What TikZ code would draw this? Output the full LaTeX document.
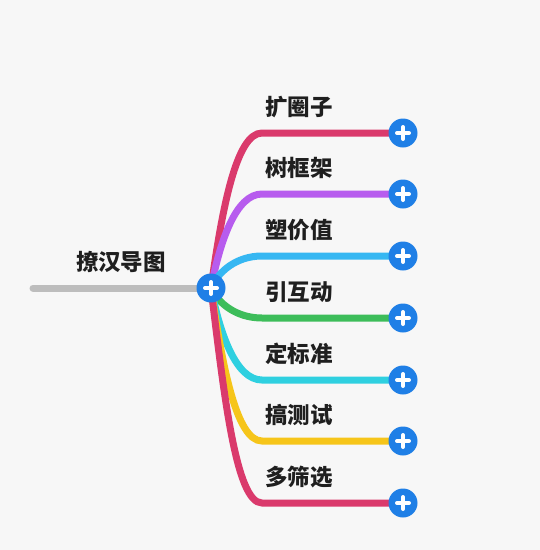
\documentclass[tikz,border=0pt]{standalone}
\usepackage{fontspec}
\newfontfamily\cjk{Noto Sans CJK SC}
\definecolor{bg}{HTML}{F7F7F7}
\definecolor{plusblue}{HTML}{1F7FE6}
\definecolor{rootgray}{HTML}{BDBDBD}
\definecolor{cA}{HTML}{DA3A6C}
\definecolor{cB}{HTML}{B75CEE}
\definecolor{cC}{HTML}{36B7F2}
\definecolor{cD}{HTML}{3DBD5A}
\definecolor{cE}{HTML}{2FD0E0}
\definecolor{cF}{HTML}{F6C51A}
\tikzset{
  plusbtn/.style={circle, fill=plusblue, minimum size=#1, inner sep=0pt,
    path picture={
      \draw[white, line width=4pt, line cap=round]
        ([xshift=-6pt]path picture bounding box.center) -- ([xshift=6pt]path picture bounding box.center)
        ([yshift=-6pt]path picture bounding box.center) -- ([yshift=6pt]path picture bounding box.center);
    }},
  branch/.style={line width=7pt, line cap=round, draw=#1},
  txt/.style={font=\cjk\bfseries\fontsize{22.5}{26}\selectfont, inner sep=0pt, text=black!88},
  lbl/.style={txt, anchor=west},
}
\begin{document}
\begin{tikzpicture}[x=1pt, y=-1pt]
\fill[bg] (0,0) rectangle (540,550);
\useasboundingbox (0,0) rectangle (540,550);
\coordinate (hubc) at (211,288);
\coordinate (rootstart) at (33,288);
\foreach \i/\y in {1/133,2/194,3/256,4/318,5/380,6/441,7/503}{
  \coordinate (ec\i) at (403,\y);
  \coordinate (k\i) at (262,\y);
}
% root line
\draw[line width=7pt, line cap=round, draw=rootgray] (rootstart) -- (hubc);
\node[txt] (root) at (121,262) {撩汉导图};
% branches
\draw[branch=cA] (hubc) .. controls (222,210) and (236,133) .. (k1) -- (ec1);
\draw[branch=cB] (hubc) .. controls (220,241) and (236,194) .. (k2) -- (ec2);
\draw[branch=cC] (hubc) .. controls (218,272) and (236,256) .. (k3) -- (ec3);
\draw[branch=cD] (hubc) .. controls (218,303) and (236,318) .. (k4) -- (ec4);
\draw[branch=cE] (hubc) .. controls (220,334) and (236,380) .. (k5) -- (ec5);
\draw[branch=cF] (hubc) .. controls (222,364) and (236,441) .. (k6) -- (ec6);
\draw[branch=cA] (hubc) .. controls (224,395) and (236,503) .. (k7) -- (ec7);
% plus buttons
\node[plusbtn=29pt] (hub) at (hubc) {};
\foreach \i in {1,...,7}{
  \node[plusbtn=29pt] (e\i) at (ec\i) {};
}
% labels
\node[lbl] (l1) at (265,107) {扩圈子};
\node[lbl] (l2) at (265,168) {树框架};
\node[lbl] (l3) at (265,230) {塑价值};
\node[lbl] (l4) at (265,292) {引互动};
\node[lbl] (l5) at (265,354) {定标准};
\node[lbl] (l6) at (265,415) {搞测试};
\node[lbl] (l7) at (265,477) {多筛选};
\end{tikzpicture}
\end{document}
